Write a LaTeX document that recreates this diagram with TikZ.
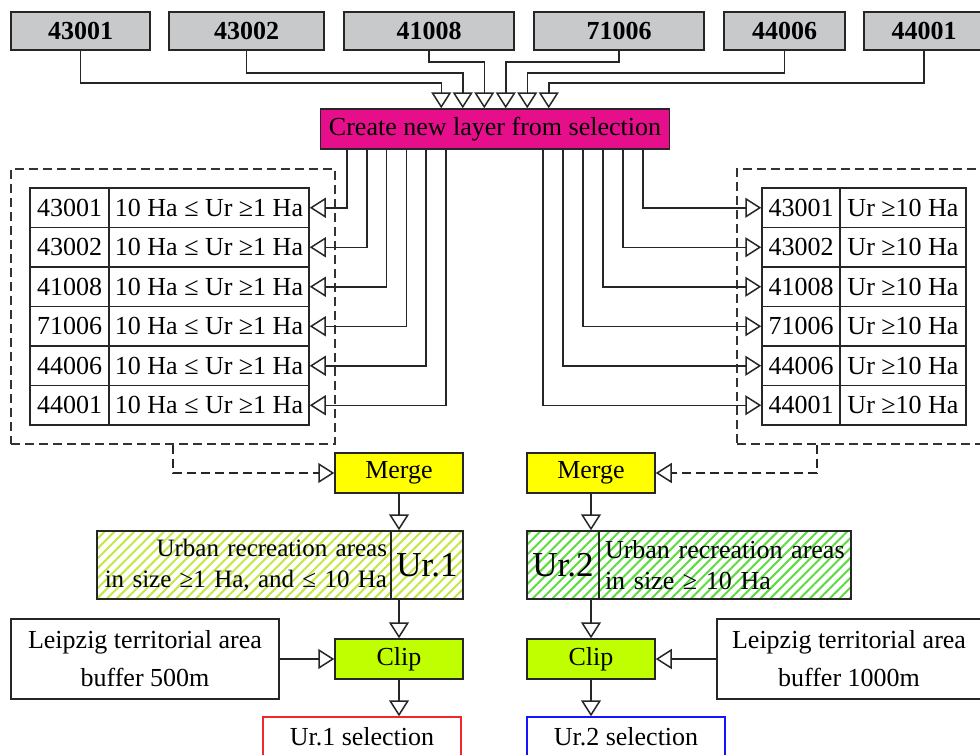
\documentclass[tikz,border=0pt]{standalone}
\usepackage{fontspec}
\setmainfont{Liberation Serif}
\usetikzlibrary{arrows.meta,patterns.meta}
\definecolor{boxgray}{RGB}{200,201,203}
\definecolor{layerpink}{RGB}{230,14,138}
\definecolor{mergeyellow}{RGB}{255,255,0}
\definecolor{cliplime}{RGB}{191,255,0}
\definecolor{stripeyellow}{RGB}{196,232,70}
\definecolor{stripegreen}{RGB}{90,220,60}
\definecolor{selred}{RGB}{240,40,40}
\definecolor{selblue}{RGB}{20,20,255}
\tikzset{
  box/.style={draw=black!85, line width=1.5pt, inner sep=0pt, font=\fontsize{26}{31}\selectfont},
  idbox/.style={box, fill=boxgray, minimum height=38pt, font=\fontsize{26}{31}\selectfont\bfseries},
  cell/.style={box, minimum height=39.5pt},
  tool/.style={box, minimum width=128pt, minimum height=40pt},
  grp/.style={draw=black!80, line width=1.5pt, dash pattern=on 9pt off 5pt},
  arr/.style={draw=black!85, line width=1.5pt, -{Triangle[open, length=16pt, width=20pt]}},
  hatchyellow/.style={preaction={fill=white}, pattern={Lines[angle=45, distance=7pt, line width=2pt]}, pattern color=stripeyellow},
  hatchgreen/.style={preaction={fill=white}, pattern={Lines[angle=45, distance=7pt, line width=2pt]}, pattern color=stripegreen},
  bigur/.style={font=\fontsize{35}{40}\selectfont}
}
\begin{document}
\begin{tikzpicture}[x=1pt, y=-1pt]
\path[fill=white, use as bounding box] (0,0) rectangle (980,755);
% input layers
\foreach \id/\cx/\w [count=\i] in {43001/80.5/139, 43002/246.5/155, 41008/429/170, 71006/619/170, 44006/784.5/121, 44001/924/120}
  \node[idbox, minimum width={\w pt}] (t\i) at (\cx,31) {\id};
\node[box, fill=layerpink, minimum width=349pt, minimum height=40pt] (cr) at (495,129) {Create new layer from selection};
\foreach \d [count=\i] in {32,22,11,11,22,32}
  \draw[arr] (t\i.south) -- ++(0,\d) -| ([xshift={(\i-3.5)*21.5}]cr.north);
% selections
\node[grp, minimum width=324pt, minimum height=275pt] (lgrp) at (173,306.5) {};
\node[grp, minimum width=255pt, minimum height=275pt] (rgrp) at (864.5,306.5) {};
\foreach \id [count=\i] in {43001,43002,41008,71006,44006,44001} {
  \node[cell, minimum width=79pt] (la\i) at (69.5,{168.25+\i*39.5}) {\id};
  \node[cell, minimum width=200pt] (lb\i) at (209,{168.25+\i*39.5}) {10 Ha ≤ Ur ≥1 Ha};
  \node[cell, minimum width=78pt] (ra\i) at (801,{168.25+\i*39.5}) {\id};
  \node[cell, minimum width=126pt] (rb\i) at (903,{168.25+\i*39.5}) {Ur ≥10 Ha};
  \draw[arr] ([xshift={-148+(\i-1)*19.8}]cr.south) |- (lb\i.east);
  \draw[arr] ([xshift={148-(\i-1)*20}]cr.south) |- (ra\i.west);
}
% merge
\node[tool, fill=mergeyellow] (m1) at (399,473) {Merge};
\node[tool, fill=mergeyellow] (m2) at (591,473) {Merge};
\draw[arr, dash pattern=on 9pt off 5pt] (lgrp.south) |- (m1.west);
\draw[arr, dash pattern=on 9pt off 5pt] ([xshift=-47.5pt]rgrp.south) |- (m2.east);
\node[box, hatchyellow, minimum height=68pt, text width=286pt, inner xsep=4pt, align=right, font=\fontsize{25}{31}\selectfont] (u1a) at (244,565) {Urban recreation areas\\in size ≥1 Ha, and ≤ 10 Ha};
\node[box, hatchyellow, bigur, minimum width=72pt, minimum height=68pt] (u1b) at (427,565) {Ur.1};
\node[box, hatchgreen, bigur, minimum width=72pt, minimum height=68pt] (u2a) at (563,565) {Ur.2};
\node[box, hatchgreen, minimum height=68pt, text width=240pt, inner xsep=6pt, align=left] (u2b) at (725,565) {Urban recreation areas\\in size ≥ 10 Ha};
\draw[arr] (m1.south) -- (m1.south |- u1b.north);
\draw[arr] (m2.south) -- (m2.south |- u2a.north);
% clip
\node[tool, fill=cliplime] (c1) at (399,659) {Clip};
\node[tool, fill=cliplime] (c2) at (591,659) {Clip};
\node[box, minimum width=268pt, minimum height=80pt, align=center, font=\fontsize{26}{38}\selectfont] (lz1) at (145,659) {Leipzig territorial area\\buffer 500m};
\node[box, minimum width=264pt, minimum height=80pt, align=center, font=\fontsize{26}{38}\selectfont] (lz2) at (849,659) {Leipzig territorial area\\buffer 1000m};
\draw[arr] (c1.north |- u1b.south) -- (c1.north);
\draw[arr] (c2.north |- u2a.south) -- (c2.north);
\draw[arr] (lz1.east) -- (c1.west);
\draw[arr] (lz2.west) -- (c2.east);
\node[box, draw=selred, minimum width=198pt, minimum height=40pt] (s1) at (362,737) {Ur.1 selection};
\node[box, draw=selblue, minimum width=198pt, minimum height=40pt] (s2) at (626,737) {Ur.2 selection};
\draw[arr] (c1.south) -- (c1.south |- s1.north);
\draw[arr] (c2.south) -- (c2.south |- s2.north);
\end{tikzpicture}
\end{document}
